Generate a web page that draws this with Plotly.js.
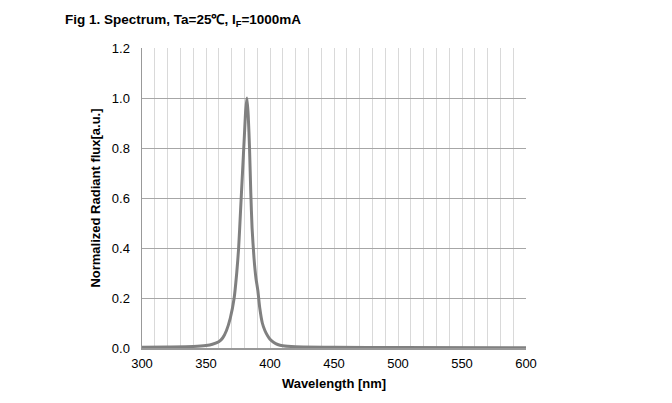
<!DOCTYPE html>
<html>
<head>
<meta charset="utf-8">
<script src="https://cdn.plot.ly/plotly-3.0.1.min.js"></script>
<style>html,body{margin:0;padding:0;background:#fff;}#chart{width:672px;height:403px;}</style>
</head>
<body>
<div id="chart"></div>
<script>
// Spectrum data
const wavelength = [300, 320, 340, 350, 355, 360, 363, 366, 369, 372, 374, 375.5, 377, 378.5, 380, 381, 382, 383, 384, 385, 386, 387.5, 389, 390.5, 392, 394, 396, 398, 400, 403, 406, 410, 420, 450, 500, 600];
const flux = [0.003, 0.004, 0.006, 0.01, 0.015, 0.025, 0.04, 0.07, 0.12, 0.2, 0.3, 0.4, 0.55, 0.7, 0.85, 0.95, 1.0, 0.93, 0.8, 0.62, 0.48, 0.36, 0.28, 0.23, 0.16, 0.1, 0.07, 0.05, 0.035, 0.022, 0.014, 0.009, 0.005, 0.003, 0.002, 0.001];
const xTicks = [300, 350, 400, 450, 500, 550, 600];
const yTicks = [0, 0.2, 0.4, 0.6, 0.8, 1.0, 1.2];

const trace = {
  x: wavelength, y: flux, type: 'scatter', mode: 'lines',
  line: {color: '#808080', width: 3, shape: 'spline', smoothing: 0.6},
  hoverinfo: 'skip'
};

const layout = {
  width: 672, height: 403,
  margin: {l: 142, r: 146, t: 48, b: 55},
  paper_bgcolor: '#fff', plot_bgcolor: '#fff',
  showlegend: false,
  font: {family: 'Liberation Sans, Arial, sans-serif', color: '#000', size: 13},
  title: {
    text: 'Fig 1. Spectrum, Ta=25℃, I<sub>F</sub>=1000mA',
    font: {family: 'Liberation Sans, Arial, sans-serif', size: 13.5, weight: 'bold', color: '#000'},
    xref: 'container', yref: 'container', x: 65/672, xanchor: 'left', y: 1 - 19/403, yanchor: 'middle'
  },
  xaxis: {
    range: [300, 600], tickvals: xTicks, ticktext: xTicks.map(String),
    showgrid: true, gridcolor: '#d9d9d9', gridwidth: 1,
    minor: {dtick: 10, tick0: 300, showgrid: true, gridcolor: '#d9d9d9', gridwidth: 1, ticks: ''},
    showline: true, linecolor: '#999999', linewidth: 1.5,
    ticks: 'outside', ticklen: 3, tickcolor: 'rgba(0,0,0,0)',
    zeroline: false, fixedrange: true,
    title: {text: 'Wavelength [nm]', font: {size: 13, weight: 'bold'}, standoff: 9}
  },
  yaxis: {
    range: [0, 1.2], tickvals: yTicks, ticktext: yTicks.map(v => v.toFixed(1)),
    showgrid: true, gridcolor: '#a6a6a6', gridwidth: 1,
    showline: true, linecolor: '#999999', linewidth: 1.5,
    ticks: 'outside', ticklen: 8, tickcolor: 'rgba(0,0,0,0)',
    zeroline: false, fixedrange: true,
    title: {text: 'Normalized Radiant flux[a.u.]', font: {size: 13, weight: 'bold'}, standoff: 8}
  }
};

Plotly.newPlot('chart', [trace], layout, {displayModeBar: false, staticPlot: true});
</script>
</body>
</html>
